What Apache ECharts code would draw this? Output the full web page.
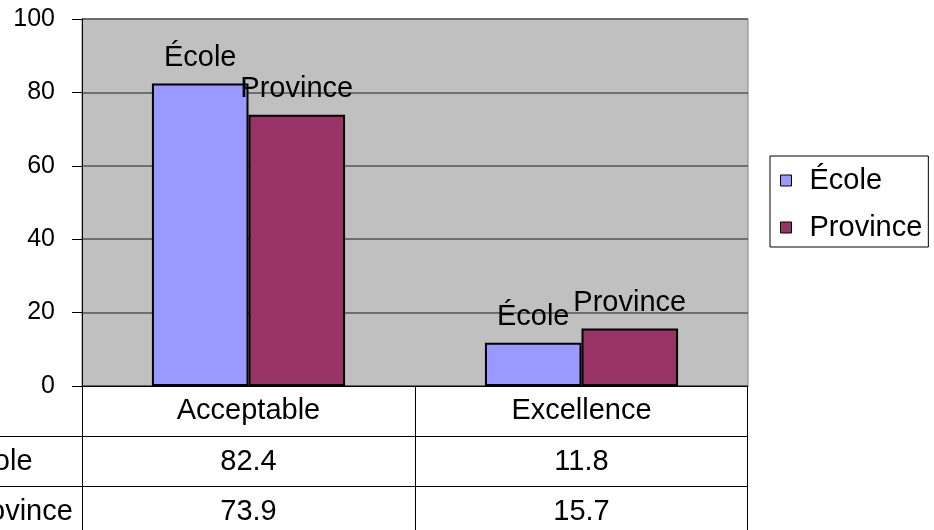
<!DOCTYPE html>
<html>
<head>
<meta charset="utf-8">
<script src="https://cdn.jsdelivr.net/npm/echarts@6/dist/echarts.min.js"></script>
<style>
html,body{margin:0;padding:0;background:#fff;}
#c{width:934px;height:530px;}
</style>
</head>
<body>
<div id="c"></div>
<script>
const categories = ['Acceptable', 'Excellence'];
const seriesNames = ['École', 'Province'];
const ecole = [82.4, 11.8];
const province = [73.9, 15.7];
const yMin = 0, yMax = 100, yStep = 20;

const FONT = 'Liberation Sans, Arial, sans-serif';
const FS = 29;
const colors = ['#9999FF', '#993366'];

const chart = echarts.init(document.getElementById('c'), null, {renderer: 'canvas'});

function barSeries(name, data, color) {
  return {
    name: name,
    type: 'bar',
    data: data,
    barGap: '0%',
    barCategoryGap: '42%',
    itemStyle: {color: color, borderColor: '#000', borderWidth: 2},
    label: {
      show: true, position: 'top', distance: 11,
      formatter: '{a}', color: '#000', fontFamily: FONT, fontSize: FS
    },
    emphasis: {disabled: true}
  };
}

chart.setOption({
  animation: false,
  textStyle: {fontFamily: FONT},
  grid: {
    left: 82, right: 186, top: 19, bottom: 144,
    show: true, backgroundColor: '#C0C0C0', borderColor: '#808080', borderWidth: 1
  },
  legend: {
    orient: 'vertical',
    left: 770, top: 156,
    padding: [10, 6, 5, 10],
    itemGap: 18,
    itemWidth: 11, itemHeight: 11,
    borderColor: '#000', borderWidth: 1, backgroundColor: '#fff',
    icon: 'rect',
    itemStyle: {borderColor: '#000', borderWidth: 1},
    textStyle: {fontFamily: FONT, fontSize: FS, color: '#000', lineHeight: 29, padding: [0, 0, 0, 13]},
    data: seriesNames
  },
  xAxis: {
    type: 'category',
    data: categories,
    axisLine: {show: true, lineStyle: {color: '#000', width: 1}},
    axisTick: {show: false},
    axisLabel: {margin: 10, color: '#000', fontFamily: FONT, fontSize: FS},
    splitLine: {show: false}
  },
  yAxis: {
    type: 'value',
    min: yMin, max: yMax, interval: yStep,
    axisLine: {show: true, lineStyle: {color: '#000', width: 1}},
    axisTick: {show: true, inside: false, length: 10, lineStyle: {color: '#000'}},
    axisLabel: {margin: 27, color: '#000', fontFamily: FONT, fontSize: 25},
    splitLine: {show: true, lineStyle: {color: '#555', width: 1.5}}
  },
  series: [
    barSeries(seriesNames[0], ecole, colors[0]),
    barSeries(seriesNames[1], province, colors[1])
  ]
});

// Data table below the plot, positioned from the axes
const c0 = chart.convertToPixel({xAxisIndex: 0}, categories[0]);
const c1 = chart.convertToPixel({xAxisIndex: 0}, categories[1]);
const band = c1 - c0;
const xl = c0 - band / 2, xm = (c0 + c1) / 2, xr = c1 + band / 2;
const yBase = chart.convertToPixel({yAxisIndex: 0}, 0);
const rowH = 50;
const H = 530;

const els = [];
function line(x1, y1, x2, y2) {
  els.push({type: 'line', shape: {x1: x1, y1: y1, x2: x2, y2: y2},
    style: {stroke: '#000', lineWidth: 1}, silent: true, z: 10});
}
function txt(x, y, s, align) {
  els.push({type: 'text', x: x, y: y, silent: true, z: 10,
    style: {text: s, fill: '#000', font: FS + 'px ' + FONT, textAlign: align || 'center', textVerticalAlign: 'middle'}});
}
line(Math.round(xl) + 0.5, yBase, Math.round(xl) + 0.5, H + 10);
line(Math.round(xm) + 0.5, yBase, Math.round(xm) + 0.5, H + 10);
line(Math.round(xr) - 0.5, yBase, Math.round(xr) - 0.5, H + 10);
line(0, Math.round(yBase + rowH) + 0.5, xr, Math.round(yBase + rowH) + 0.5);
line(0, Math.round(yBase + 2 * rowH) + 0.5, xr, Math.round(yBase + 2 * rowH) + 0.5);

const rows = [ecole, province];
rows.forEach(function (vals, r) {
  const yc = yBase + rowH * (r + 1) + rowH / 2 + 1;
  txt(-40, yc, seriesNames[r], 'left');
  vals.forEach(function (v, i) {
    const cx = chart.convertToPixel({xAxisIndex: 0}, categories[i]);
    txt(cx, yc, String(v), 'center');
  });
});
chart.setOption({graphic: els});
</script>
</body>
</html>
